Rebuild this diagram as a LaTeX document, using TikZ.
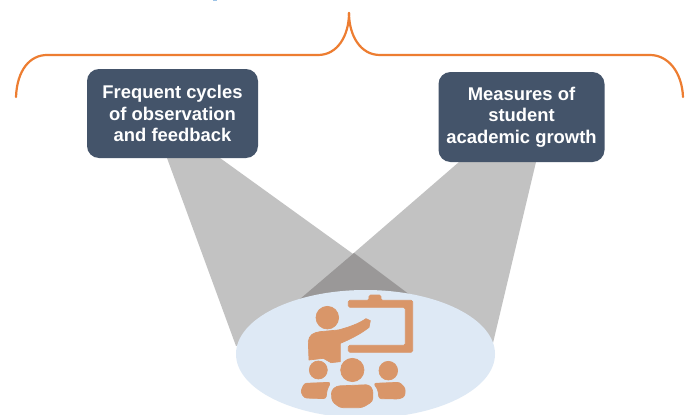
\documentclass[tikz,border=0pt]{standalone}
\usepackage{fontspec}
\setmainfont{Liberation Sans}
\definecolor{boxblue}{HTML}{44546A}
\definecolor{bracec}{HTML}{ED7D31}
\definecolor{beam}{HTML}{C2C2C2}
\definecolor{beamdark}{HTML}{9A9898}
\definecolor{ellc}{HTML}{DEE9F5}
\definecolor{iconc}{HTML}{D99669}
\definecolor{tickc}{HTML}{9DC3E6}
\tikzset{
 labelbox/.style={fill=boxblue,rounded corners=12pt,text=white,font=\fontsize{18.4}{21.7}\selectfont\bfseries,align=center,inner sep=0pt},
 bracepath/.style={draw=bracec,line width=2.2pt,line cap=round},
 icon/.style={fill=iconc,draw=iconc,line width=0.7pt,line join=round}
}
\begin{document}
\begin{tikzpicture}[x=1pt,y=-1pt]
\useasboundingbox (0,0) rectangle (689,415);
\fill[white] (0,0) rectangle (689,415);
\fill[tickc] (213,0) rectangle (217,1.2);
\fill[beam] (167,158) -- (220,158) -- (410,295) -- (236,346) -- cycle;
\fill[beam] (459,162) -- (536,162) -- (493,343) -- (303,297) -- cycle;
\fill[beamdark] (354,253) -- (410,295) -- (300,299) -- cycle;
\begin{scope}
\clip (0,0) rectangle (689,415);
\fill[ellc] (365.5,354) ellipse [x radius=129.5,y radius=64];
\end{scope}
\begin{scope}[shift={(295,290)},x=0.3333pt,y=-0.3333pt]
 % board
 \path[icon,rounded corners=1.5pt] (160,31) -- (222,31) -- (222,15) -- (258,15) -- (258,31) -- (353,31) -- (353,187) -- (160,187) -- (160,166) -- (331,166) -- (331,52) -- (160,52) -- cycle;
 % teacher
 \path[icon] (97,83) circle [radius=34];
 \path[icon] (40,155) .. controls (42,135) and (55,128) .. (75,125) -- (130,120) .. controls (160,112) and (190,102) .. (213,86) -- (226,92) -- (222,112) .. controls (200,130) and (165,148) .. (136,160) -- (136,215) -- (108,218) -- (85,205) -- (42,210) -- cycle;
 % students
 \path[icon] (70,240) circle [radius=27];
 \path[icon] (172,240) circle [radius=35];
 \path[icon] (280,242) circle [radius=28];
 \path[icon,rounded corners=2.5pt] (28,280) -- (107,277) -- (96,300) -- (93,326) -- (28,324) -- (17,305) -- cycle;
 \path[icon,rounded corners=3pt] (125,288) -- (222,284) -- (234,300) -- (233,334) -- (202,353) -- (135,353) -- (111,334) -- (109,302) -- cycle;
 \path[icon,rounded corners=2.5pt] (236,280) -- (314,277) -- (331,295) -- (329,320) -- (312,327) -- (252,326) -- (249,300) -- cycle;
\end{scope}
\draw[bracepath] (16,97) .. controls (17,70) and (30,55) .. (47,55) -- (318,55) .. controls (338,55) and (349,35) .. (349,13);
\draw[bracepath] (349,13) .. controls (349,35) and (360,55) .. (380,55) -- (650,55) .. controls (668,55) and (682,72) .. (683,97);
\node[labelbox,minimum width=171pt,minimum height=89pt] (a) at (172.5,113.5) {Frequent cycles\\of observation\\and feedback};
\node[labelbox,minimum width=166pt,minimum height=90pt] (b) at (521.5,117) {Measures of\\student\\academic growth};
\end{tikzpicture}
\end{document}
